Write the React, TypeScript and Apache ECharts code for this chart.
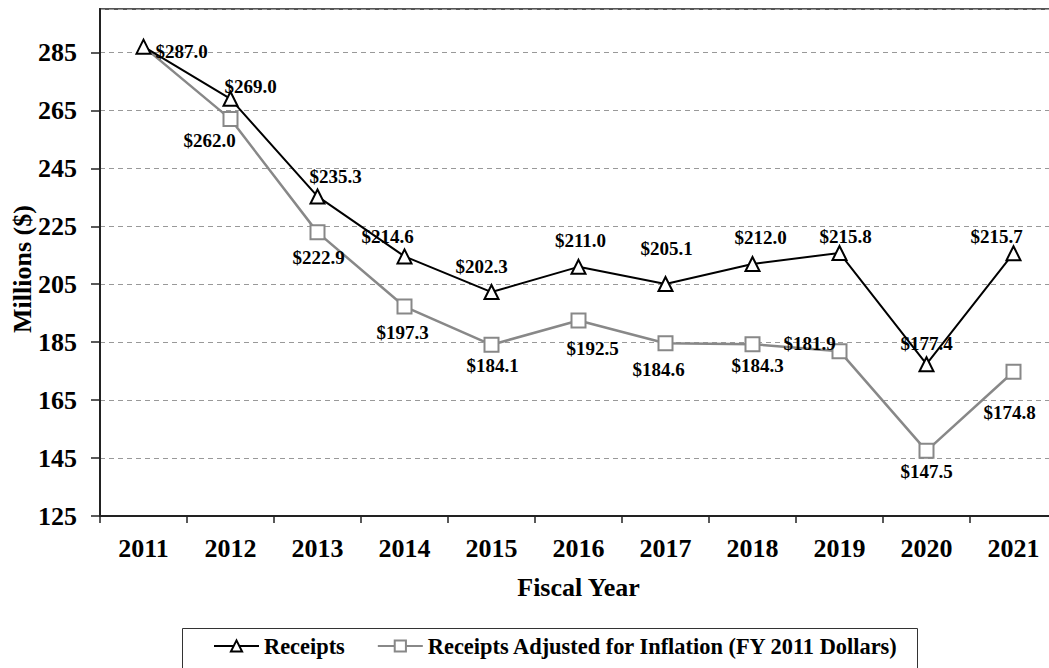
import React, { useEffect, useRef } from "react";
import * as echarts from "echarts";

const years = ["2011", "2012", "2013", "2014", "2015", "2016", "2017", "2018", "2019", "2020", "2021"];
const receipts = [287.0, 269.0, 235.3, 214.6, 202.3, 211.0, 205.1, 212.0, 215.8, 177.4, 215.7];
const adjusted = [287.0, 262.0, 222.9, 197.3, 184.1, 192.5, 184.6, 184.3, 181.9, 147.5, 174.8];

const seriesNames = ["Receipts", "Receipts Adjusted for Inflation (FY 2011 Dollars)"];

// label placement offsets (layout only)
const receiptsLabelOffsets = [
  [38, 5], [20, -12], [18, -20], [-17, -20], [-10, -26], [2, -26], [1, -35], [8, -26], [6, -16], [0, -21], [-17, -17],
];
const adjustedLabelOffsets = [
  [0, 0], [-21, 21], [1, 25], [-2, 26], [1, 21], [14, 28], [-7, 26], [5, 21], [-30, -8], [0, 21], [-4, 41],
];

const FONT = "Liberation Serif";

export default function App() {
  const ref = useRef<HTMLDivElement>(null);
  useEffect(() => {
    if (!ref.current) return;
    const chart = echarts.init(ref.current, null, { renderer: "svg" });
    const labelBase = {
      show: true,
      position: "inside",
      fontFamily: FONT,
      fontWeight: "bold",
      fontSize: 19,
      color: "#000",
      formatter: (p: any) => "$" + Number(p.value).toFixed(1),
    };
    chart.setOption({
      animation: false,
      backgroundColor: "#fff",
      textStyle: { fontFamily: FONT },
      grid: {
        left: 100,
        top: 9,
        width: 957,
        bottom: 152,
        show: true,
        borderColor: "#555",
        borderWidth: 2,
        backgroundColor: "transparent",
        containLabel: false,
        outerBoundsMode: "none",
      },
      graphic: [
        {
          type: "rect",
          shape: { x: 182.5, y: 628.5, width: 735, height: 60 },
          style: { fill: "none", stroke: "#333", lineWidth: 1 },
          silent: true,
        },
      ],
      legend: {
        left: 213,
        top: 635,
        padding: 0,
        itemGap: 32,
        itemWidth: 45,
        itemHeight: 14,
        textStyle: { fontFamily: FONT, fontWeight: "bold", fontSize: 22.4, color: "#000" },
        data: seriesNames,
      },
      xAxis: {
        type: "category",
        data: years,
        boundaryGap: true,
        name: "Fiscal Year",
        nameLocation: "middle",
        nameGap: 58,
        nameMoveOverlap: false,
        nameTextStyle: { fontFamily: FONT, fontWeight: "bold", fontSize: 26, color: "#000" },
        axisLine: { lineStyle: { color: "#222", width: 2 } },
        axisTick: { show: true, length: 7, lineStyle: { color: "#222", width: 1.5 } },
        axisLabel: { margin: 19, fontFamily: FONT, fontWeight: "bold", fontSize: 26, color: "#000" },
        splitLine: { show: false },
      },
      yAxis: {
        type: "value",
        min: 125,
        max: 300,
        interval: 20,
        name: "Millions ($)",
        nameLocation: "middle",
        nameGap: 65,
        nameMoveOverlap: false,
        nameTextStyle: {
          fontFamily: FONT,
          fontWeight: "bold",
          fontSize: 26,
          color: "#000",
          padding: [0, 13, 0, 0],
        },
        axisLine: { show: true, lineStyle: { color: "#222", width: 2 } },
        axisTick: { show: true, length: 9, lineStyle: { color: "#222", width: 1.5 } },
        axisLabel: { margin: 23, showMaxLabel: false, fontFamily: FONT, fontWeight: "bold", fontSize: 26, color: "#000" },
        splitLine: { show: true, lineStyle: { color: "#999", width: 1, type: [5, 4] } },
      },
      series: [
        {
          name: seriesNames[1],
          type: "line",
          z: 2,
          symbol: "emptyRect",
          symbolSize: 14,
          color: "#888",
          lineStyle: { color: "#888", width: 2.5 },
          itemStyle: { color: "#888", borderWidth: 2.5 },
          data: adjusted.map((v, i) => ({
            value: v,
            symbol: i === 0 ? "none" : "emptyRect",
            label: { ...labelBase, show: i !== 0, offset: adjustedLabelOffsets[i] },
          })),
        },
        {
          name: seriesNames[0],
          type: "line",
          z: 3,
          symbol: "emptyTriangle",
          symbolSize: 14,
          color: "#000",
          lineStyle: { color: "#000", width: 2 },
          itemStyle: { color: "#000", borderWidth: 2 },
          data: receipts.map((v, i) => ({
            value: v,
            label: { ...labelBase, offset: receiptsLabelOffsets[i] },
          })),
        },
      ],
    });
    return () => chart.dispose();
  }, []);
  return (
    <div
      ref={ref}
      style={{ position: "fixed", left: 0, top: 0, width: 1049, height: 668, background: "#fff" }}
    />
  );
}
